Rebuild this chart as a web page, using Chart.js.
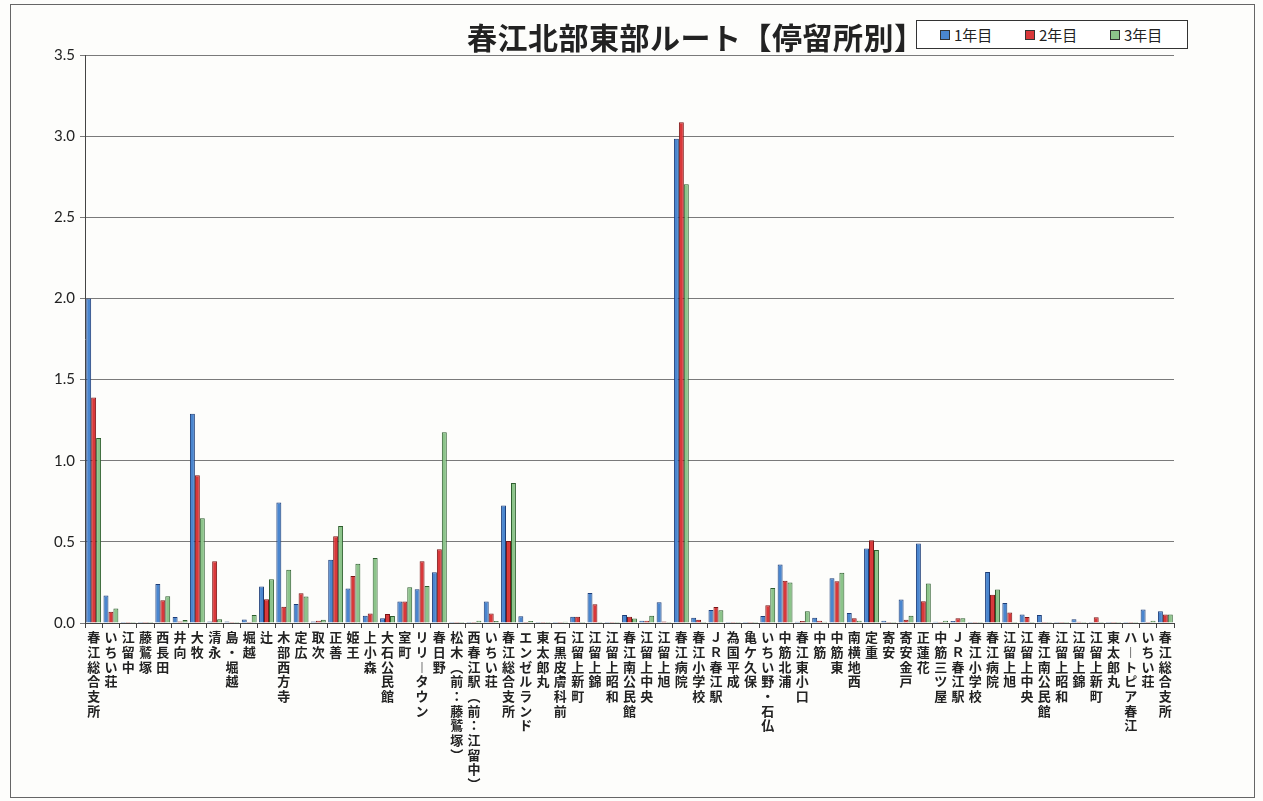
<!DOCTYPE html>
<html lang="ja">
<head>
<meta charset="utf-8">
<title>春江北部東部ルート【停留所別】</title>
<script src="https://cdn.jsdelivr.net/npm/chart.js@4.4.1/dist/chart.umd.min.js"></script>
<style>
    body { margin: 0; background: #fdfdfb; }
    #marco { position: absolute; left: 10px; top: 4px; width: 1243px; height: 792px; border: 1px solid #666; }
    #titulo { position: absolute; left: 467px; top: 14px; margin: 0; font: bold 30px 'Noto Sans CJK JP', sans-serif; color: #222; letter-spacing: 0.5px; white-space: nowrap; }
    #leyenda { position: absolute; left: 916px; top: 20px; width: 272px; height: 29px; border: 1px solid #333; background: #fff;
               display: flex; align-items: center; padding-left: 23px; box-sizing: border-box; font: 15px 'Noto Sans CJK JP', sans-serif; color: #222; white-space: nowrap; }
    #leyenda span.item { display: flex; align-items: center; flex: 0 0 85px; }
    #leyenda span.caja { width: 8px; height: 8px; border: 1px solid #333; margin-right: 4px; flex: 0 0 auto; }
    canvas { position: absolute; left: 0; top: 0; }
</style>
</head>
<body>
<div id="marco"></div>
<canvas id="myChart" width="1263" height="801"></canvas>
<h1 id="titulo">春江北部東部ルート【停留所別】</h1>
<div id="leyenda"></div>
<script>
// Paradas (eje X)
const paradas = [
    "春江総合支所", "いちい荘", "江留中", "藤鷲塚", "西長田", "井向", "大牧", "清永", "島・堀越", "堀越",
    "辻", "木部西方寺", "定広", "取次", "正善", "姫王", "上小森", "大石公民館", "室町", "リリータウン",
    "春日野", "松木（前：藤鷲塚）", "西春江駅（前：江留中）", "いちい荘", "春江総合支所", "エンゼルランド", "東太郎丸", "石黒皮膚科前", "江留上新町", "江留上錦",
    "江留上昭和", "春江南公民館", "江留上中央", "江留上旭", "春江病院", "春江小学校", "ＪＲ春江駅", "為国平成", "亀ケ久保", "いちい野・石仏",
    "中筋北浦", "春江東小口", "中筋", "中筋東", "南横地西", "定重", "寄安", "寄安金戸", "正蓮花", "中筋三ツ屋",
    "ＪＲ春江駅", "春江小学校", "春江病院", "江留上旭", "江留上中央", "春江南公民館", "江留上昭和", "江留上錦", "江留上新町", "東太郎丸",
    "ハートピア春江", "いちい荘", "春江総合支所"
];

const nombresSeries = ["1年目", "2年目", "3年目"];

const nen1 = [
    2.00, 0.17, 0.005, 0.005, 0.24, 0.037, 1.29, 0.01, 0.01, 0.022,
    0.225, 0.742, 0.117, 0.01, 0.39, 0.213, 0.045, 0.029, 0.132, 0.208,
    0.313, 0, 0, 0.132, 0.724, 0.041, 0.002, 0.002, 0.039, 0.185,
    0.005, 0.05, 0.014, 0.128, 2.984, 0.033, 0.08, 0.005, 0.005, 0.043,
    0.36, 0.008, 0.033, 0.276, 0.062, 0.459, 0.014, 0.145, 0.49, 0.008,
    0.012, 0.004, 0.314, 0.124, 0.052, 0.05, 0.002, 0.023, 0.004, 0.002,
    0, 0.083, 0.072
];
const nen2 = [
    1.39, 0.07, 0.005, 0.005, 0.14, 0.01, 0.91, 0.38, 0.005, 0.003,
    0.147, 0.10, 0.184, 0.014, 0.535, 0.29, 0.058, 0.056, 0.132, 0.38,
    0.455, 0, 0, 0.058, 0.506, 0.006, 0.002, 0.002, 0.039, 0.115,
    0.005, 0.038, 0.014, 0.01, 3.085, 0.02, 0.099, 0.005, 0.005, 0.109,
    0.261, 0.012, 0.014, 0.257, 0.029, 0.51, 0.006, 0.02, 0.134, 0.006,
    0.029, 0.002, 0.174, 0.064, 0.037, 0.004, 0.002, 0.008, 0.035, 0.004,
    0.003, 0, 0.052
];
const nen3 = [
    1.14, 0.09, 0.005, 0.005, 0.165, 0.018, 0.645, 0.023, 0.003, 0.05,
    0.27, 0.328, 0.164, 0.02, 0.598, 0.365, 0.40, 0.043, 0.22, 0.228,
    1.175, 0, 0.014, 0.012, 0.862, 0.012, 0.002, 0.008, 0.006, 0.004,
    0.003, 0.028, 0.045, 0.002, 2.703, 0.005, 0.078, 0.005, 0.005, 0.216,
    0.249, 0.072, 0.008, 0.31, 0.014, 0.45, 0.002, 0.045, 0.244, 0.014,
    0.029, 0, 0.207, 0, 0, 0.002, 0, 0, 0, 0,
    0, 0.014, 0.052
];

const ticksY = [0, 0.5, 1.0, 1.5, 2.0, 2.5, 3.0, 3.5];

const coloresRelleno = ['#4a86cf', '#d9383a', '#8cc48a'];
const coloresBorde = ['#1d3d78', '#7a1515', '#2e5e2e'];

// Texto vertical: un carácter por línea
function aVertical(texto) {
    const mapa = { '（': '︵', '(': '︵', '）': '︶', ')': '︶', 'ー': '︱' };
    return Array.from(texto).map(c => mapa[c] || c);
}

function crearGrafico() {
    const ctx = document.getElementById('myChart').getContext('2d');
    Chart.defaults.font.family = "'Noto Sans CJK JP', sans-serif";
    Chart.defaults.color = '#222';

    const series = [nen1, nen2, nen3];
    const datasets = series.map((valores, i) => ({
        label: nombresSeries[i],
        data: valores,
        backgroundColor: coloresRelleno[i],
        borderColor: coloresBorde[i],
        borderWidth: 1,
        minBarLength: 1,
        categoryPercentage: 0.86,
        barPercentage: 1.0
    }));

    const chart = new Chart(ctx, {
        type: 'bar',
        data: { labels: paradas, datasets: datasets },
        options: {
            responsive: false,
            animation: false,
            layout: { padding: { left: 0, right: 89, top: 55, bottom: 8 } },
            scales: {
                x: {
                    grid: { display: true, drawOnChartArea: false, drawTicks: true, tickLength: 5, color: '#444' },
                    border: { color: '#444' },
                    ticks: {
                        autoSkip: false,
                        maxRotation: 0,
                        minRotation: 0,
                        padding: 2,
                        font: { size: 13, weight: 'bold', lineHeight: 1.13 },
                        callback: function (value) { return aVertical(this.getLabelForValue(value)); }
                    },
                    afterFit: function (scale) { scale.height = 170; }
                },
                y: {
                    min: 0,
                    max: 3.5,
                    afterBuildTicks: function (scale) { scale.ticks = ticksY.map(v => ({ value: v })); },
                    grid: { color: '#7a7a7a', tickLength: 5 },
                    border: { color: '#444' },
                    ticks: {
                        padding: 5,
                        font: { family: 'Lato', size: 15 },
                        callback: v => v.toFixed(1)
                    },
                    afterFit: function (scale) { scale.width = 85; }
                }
            },
            plugins: {
                legend: { display: false },
                title: { display: false },
                tooltip: { enabled: false }
            }
        }
    });

    // Leyenda en HTML desde los datasets
    const leyenda = document.getElementById('leyenda');
    chart.data.datasets.forEach(ds => {
        const item = document.createElement('span');
        item.className = 'item';
        const caja = document.createElement('span');
        caja.className = 'caja';
        caja.style.background = ds.backgroundColor;
        item.appendChild(caja);
        item.appendChild(document.createTextNode(ds.label));
        leyenda.appendChild(item);
    });
}

crearGrafico();
</script>
</body>
</html>
